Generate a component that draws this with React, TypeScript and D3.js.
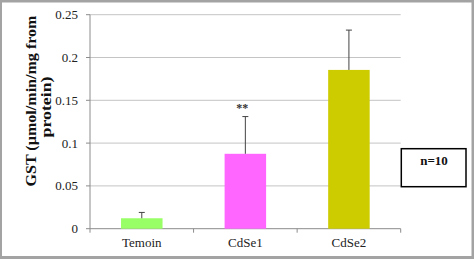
import React from "react";
import * as d3 from "d3";

const categories = ["Temoin", "CdSe1", "CdSe2"];
const values = [0.0122, 0.0875, 0.1855];
const errors = [0.0068, 0.0435, 0.0465];
const colors = ["#99ff66", "#ff66ff", "#cccc00"];
const yTicks = [0, 0.05, 0.1, 0.15, 0.2, 0.25];
const yTickLabels = ["0", "0.05", "0.1", "0.15", "0.2", "0.25"];
const signif = ["", "**", ""];

const W = 474, H = 259;
const left = 90, right = 400.7, top = 14.7, bottom = 228.7;

export default function App() {
  const xb = d3.scaleBand<string>().domain(categories).range([left, right]);
  const y = d3.scaleLinear().domain([0, 0.25]).range([bottom, top]);
  const serif = "'Liberation Serif', 'Times New Roman', serif";
  const boundaries = [left, ...categories.map((c) => (xb(c) as number) + xb.bandwidth())];
  return (
    <svg width={W} height={H} style={{ position: "absolute", left: 0, top: 0 }} fontFamily={serif}>
      <rect x={0} y={0} width={W} height={H} fill="#a3a3a3" />
      <rect x={2} y={2.5} width={469.5} height={253.5} fill="#ffffff" />
      {yTicks.map((t, i) => (
        <g key={i}>
          {i > 0 && <line x1={left} x2={right} y1={y(t)} y2={y(t)} stroke="#c4c4c4" strokeWidth={1} />}
          <line x1={left - 4} x2={left} y1={y(t)} y2={y(t)} stroke="#8c8c8c" />
          <text x={78} y={y(t) + 4.5} textAnchor="end" fontSize={13} fill="#222">{yTickLabels[i]}</text>
        </g>
      ))}
      <line x1={left} x2={left} y1={top} y2={bottom} stroke="#8c8c8c" />
      <line x1={left} x2={right} y1={bottom} y2={bottom} stroke="#8c8c8c" />
      {boundaries.map((b, i) => (
        <line key={i} x1={b} x2={b} y1={bottom} y2={bottom + 4} stroke="#8c8c8c" />
      ))}
      {categories.map((c, i) => {
        const cx = (xb(c) as number) + xb.bandwidth() / 2;
        const bw = 41.5;
        return (
          <g key={c}>
            <rect x={cx - bw / 2} y={y(values[i])} width={bw} height={y(0) - y(values[i])} fill={colors[i]} />
            <line x1={cx} x2={cx} y1={y(values[i])} y2={y(values[i] + errors[i])} stroke="#444" strokeWidth={1} />
            <line x1={cx - 3} x2={cx + 3} y1={y(values[i] + errors[i])} y2={y(values[i] + errors[i])} stroke="#444" strokeWidth={1} />
            {signif[i] && (
              <text x={cx - 3} y={y(values[i] + errors[i]) - 5} textAnchor="middle" fontSize={12} fontWeight="bold" fill="#333">{signif[i]}</text>
            )}
            <text x={cx} y={247} textAnchor="middle" fontSize={13} fill="#222">{c}</text>
          </g>
        );
      })}
      <text transform="translate(35.5,101) rotate(-90)" textAnchor="middle" fontSize={15} fontWeight="bold" fill="#111" textLength={171} lengthAdjust="spacingAndGlyphs">GST (µmol/min/mg from</text>
      <text transform="translate(51,107) rotate(-90)" textAnchor="middle" fontSize={15} fontWeight="bold" fill="#111" textLength={61} lengthAdjust="spacingAndGlyphs">protein)</text>
      <rect x={401.3} y={148.7} width={64.7} height={38} fill="#fff" stroke="#000" strokeWidth={1.5} />
      <text x={434} y={165} textAnchor="middle" fontSize={13} fontWeight="bold" fill="#111">n=10</text>
    </svg>
  );
}
